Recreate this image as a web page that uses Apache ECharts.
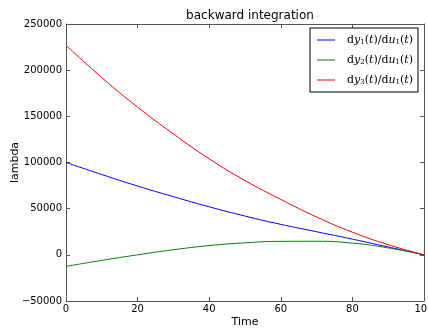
<!DOCTYPE html>
<html>
<head>
<meta charset="utf-8">
<script src="https://cdn.jsdelivr.net/npm/echarts@6/dist/echarts.min.js"></script>
<style>
  html, body { margin: 0; padding: 0; background: #fff; }
  #chart { width: 428px; height: 329px; }
</style>
</head>
<body>
<div id="chart"></div>
<script>
// values
const time = [0, 10, 20, 30, 40, 50, 60, 70, 80, 90, 100];
const dy1 = [100000, 87000, 74500, 63000, 52000, 42000, 33000, 25000, 17000, 8500, 0];
const dy2 = [-12500, -6000, 0, 5500, 10000, 13000, 14600, 14700, 12700, 7500, 0];
const dy3 = [227000, 192000, 160000, 131000, 104000, 80500, 60000, 41000, 24500, 11000, 0];
const seriesNames = ['dy1', 'dy2', 'dy3'];
const seriesColors = ['#0000ff', '#008000', '#ff0000'];

const axisColor = '#555';
const font = 'DejaVu Sans';

function pairs(ys) {
  return time.map((t, i) => [t, ys[i]]);
}

// legend label like dy_1(t)/du_1(t), math style
function legendLabel(name) {
  const k = name.slice(2);
  return '{g|}{r|d}{i|y}{s|' + k + '}{r|(}{i|t}{r|)/d}{i|u}{s|1}{r|(}{i|t}{r|)}';
}

function tickAxis(extra) {
  return Object.assign({
    type: 'value',
    axisLine: { show: true, onZero: false, lineStyle: { color: axisColor, width: 1 } },
    axisTick: { show: true, inside: true, length: 4, lineStyle: { color: axisColor } },
    splitLine: { show: false }
  }, extra);
}

const chart = echarts.init(document.getElementById('chart'));
chart.setOption({
  animation: false,
  title: {
    text: 'backward integration',
    left: 245,
    top: 5,
    textAlign: 'center',
    textStyle: { fontFamily: font, fontSize: 12, fontWeight: 'normal', color: '#000' }
  },
  grid: { left: 66, right: 4, top: 24, bottom: 28, outerBoundsMode: 'none', containLabel: false },
  legend: {
    data: seriesNames,
    orient: 'vertical',
    right: 10,
    top: 28,
    icon: 'rect',
    itemWidth: 18,
    itemHeight: 1,
    itemGap: 8,
    padding: [6, 5, 6, 7],
    borderColor: '#000',
    borderWidth: 1,
    backgroundColor: '#fff',
    formatter: legendLabel,
    textStyle: {
      rich: {
        g: { width: 7 },
        r: { fontFamily: 'DejaVu Serif', fontSize: 11, color: '#000' },
        i: { fontFamily: 'DejaVu Serif', fontSize: 11, fontStyle: 'italic', color: '#000' },
        s: { fontFamily: 'DejaVu Serif', fontSize: 7, color: '#000', verticalAlign: 'bottom', padding: [4, 0, 0, 0] }
      }
    }
  },
  xAxis: [tickAxis({
    position: 'bottom',
    min: 0,
    max: 100,
    interval: 20,
    name: 'Time',
    nameLocation: 'middle',
    nameGap: 16,
    nameMoveOverlap: false,
    nameTextStyle: { fontFamily: font, fontSize: 11, color: '#000' },
    axisLabel: { fontFamily: font, fontSize: 10, color: '#000', margin: 3 }
  }), tickAxis({
    position: 'top',
    min: 0,
    max: 100,
    interval: 20,
    axisLabel: { show: false }
  })],
  yAxis: [tickAxis({
    position: 'left',
    min: -50000,
    max: 250000,
    interval: 50000,
    name: 'lambda',
    nameLocation: 'middle',
    nameGap: 45,
    nameMoveOverlap: false,
    nameTextStyle: { fontFamily: font, fontSize: 11, color: '#000' },
    axisLabel: {
      fontFamily: font, fontSize: 10, color: '#000', margin: 4,
      formatter: v => String(v).replace('-', '\u2212')
    }
  }), tickAxis({
    position: 'right',
    min: -50000,
    max: 250000,
    interval: 50000,
    axisLabel: { show: false }
  })],
  series: [dy1, dy2, dy3].map((ys, i) => ({
    name: seriesNames[i],
    type: 'line',
    data: pairs(ys),
    smooth: true,
    symbol: 'none',
    color: seriesColors[i],
    lineStyle: { width: 1, color: seriesColors[i] }
  }))
});
</script>
</body>
</html>
